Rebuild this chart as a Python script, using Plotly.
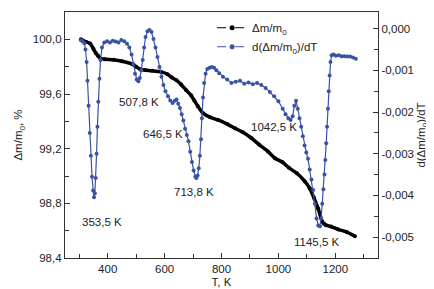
import plotly.graph_objects as go

# Δm/m0 (%) - left axis
T_mass = [306, 315, 325, 338, 350, 358, 366, 375, 390, 420, 450, 485, 500, 515, 531, 556, 590, 610,
          626, 642, 658, 675, 693, 705, 717, 735, 760, 788, 820, 847, 875, 904, 932, 963, 988,
          1015, 1037, 1065, 1093, 1110, 1125, 1140, 1153, 1160, 1167, 1185, 1209, 1240, 1269]
mass = [100.0, 99.99, 99.98, 99.97, 99.93, 99.90, 99.88, 99.86, 99.855, 99.85, 99.84, 99.82, 99.80,
        99.78, 99.775, 99.77, 99.76, 99.745, 99.72, 99.70, 99.67, 99.63, 99.59, 99.55, 99.51, 99.46,
        99.43, 99.41, 99.38, 99.35, 99.32, 99.28, 99.23, 99.18, 99.13, 99.10, 99.06, 99.02, 98.96,
        98.91, 98.84, 98.76, 98.67, 98.65, 98.64, 98.63, 98.61, 98.59, 98.56]

# d(Δm/m0)/dT (units of 1e-3) - right axis
T_der = [306, 312, 318, 322, 326, 329, 333, 337, 341, 345, 349, 352, 355, 358, 361, 364, 367, 371,
         375, 380, 388, 398, 408, 418, 428, 438, 448, 458, 468, 476, 484, 490, 496, 502, 508, 513,
         518, 523, 528, 533, 540, 547, 554, 561, 568, 575, 582, 589, 596, 603, 612, 620, 628, 636,
         642, 648, 654, 660, 666, 672, 678, 684, 690, 696, 702, 708, 712, 716, 720, 724, 728, 731,
         735, 739, 744, 750, 758, 766, 774, 782, 792, 805, 820, 835, 850, 865, 880, 895, 910, 925,
         940, 955, 970, 985, 1000, 1015, 1025, 1035, 1043, 1050, 1056, 1062, 1068, 1074, 1080,
         1086, 1092, 1098, 1104, 1110, 1116, 1122, 1128, 1134, 1140, 1146, 1150, 1154, 1158, 1162,
         1165, 1168, 1171, 1174, 1177, 1180, 1183, 1187, 1194, 1202, 1212, 1222, 1232, 1242, 1252,
         1262, 1272]
der = [-0.28, -0.30, -0.35, -0.50, -0.80, -1.25, -1.85, -2.50, -3.05, -3.55, -3.88, -4.04, -3.95,
       -3.58, -3.00, -2.35, -1.75, -1.20, -0.75, -0.45, -0.33, -0.30, -0.33, -0.29, -0.31, -0.33,
       -0.27, -0.30, -0.36, -0.45, -0.62, -0.85, -1.08, -1.22, -1.26, -1.18, -1.00, -0.75, -0.45,
       -0.20, -0.06, -0.03, -0.08, -0.25, -0.45, -0.68, -0.92, -1.15, -1.35, -1.50, -1.62, -1.72,
       -1.78, -1.73, -1.70, -1.80, -1.90, -2.05, -2.20, -2.40, -2.55, -2.70, -2.95, -3.20, -3.40,
       -3.55, -3.58, -3.52, -3.35, -3.05, -2.65, -2.15, -1.65, -1.30, -1.08, -0.97, -0.94, -0.92,
       -0.94, -1.00, -1.07, -1.15, -1.22, -1.30, -1.27, -1.25, -1.32, -1.29, -1.33, -1.30, -1.35,
       -1.42, -1.52, -1.62, -1.74, -1.92, -2.05, -2.15, -2.19, -2.10, -1.85, -1.73, -1.92, -2.15,
       -2.35, -2.58, -2.80, -2.97, -3.12, -3.38, -3.62, -3.87, -4.20, -4.55, -4.72, -4.74, -4.55,
       -4.20, -3.85, -3.50, -3.15, -2.75, -2.35, -1.92, -1.50, -1.12, -0.80, -0.64, -0.62, -0.65,
       -0.64, -0.66, -0.66, -0.67, -0.67, -0.69, -0.72]
der = [d * 1e-3 for d in der]

x_ticks = [400, 600, 800, 1000, 1200]
y1_ticks = [98.4, 98.8, 99.2, 99.6, 100.0]
y1_text = ["98,4", "98,8", "99,2", "99,6", "100,0"]
y2_ticks = [0.0, -0.001, -0.002, -0.003, -0.004, -0.005]
y2_text = ["0,000", "-0,001", "-0,002", "-0,003", "-0,004", "-0,005"]

labels = ["353,5 K", "507,8 K", "646,5 K", "713,8 K", "1042,5 K", "1145,5 K"]
label_T = [380, 510, 594, 703, 984, 1136]
label_y = [98.66, 99.54, 99.31, 98.88, 99.36, 98.52]

BLUE = "#3953a4"
FONT = "Liberation Sans, Arial, sans-serif"
FS = 11.5

fig = go.Figure()
fig.add_trace(go.Scatter(x=T_mass, y=mass, mode="lines+markers",
                         line=dict(color="black", width=3.5, shape="spline", smoothing=0.6),
                         marker=dict(color="black", size=4),
                         showlegend=False, yaxis="y"))
fig.add_trace(go.Scatter(x=[None], y=[None], mode="lines+markers",
                         line=dict(color="black", width=1, dash="dash"),
                         marker=dict(color="black", size=5),
                         name="Δm/m<sub>0</sub>", yaxis="y"))
fig.add_trace(go.Scatter(x=T_der, y=der, mode="lines+markers",
                         line=dict(color=BLUE, width=1.2),
                         marker=dict(color=BLUE, size=4),
                         showlegend=False, yaxis="y2"))
fig.add_trace(go.Scatter(x=[None], y=[None], mode="lines+markers",
                         line=dict(color=BLUE, width=1, dash="dash"),
                         marker=dict(color=BLUE, size=5),
                         name="d(Δm/m<sub>0</sub>)/dT", yaxis="y2"))

for t, xx, yy in zip(labels, label_T, label_y):
    fig.add_annotation(x=xx, y=yy, xref="x", yref="y", text=t, showarrow=False,
                       font=dict(family=FONT, size=FS, color="#222"))

axis_common = dict(showgrid=False, zeroline=False, showline=True, linecolor="#333",
                   linewidth=1.2, ticks="inside", ticklen=5, tickcolor="#333",
                   tickfont=dict(family=FONT, size=FS, color="#222"))

fig.update_layout(
    width=434, height=289,
    margin=dict(l=57, r=64, t=4, b=39),
    paper_bgcolor="white", plot_bgcolor="white",
    font=dict(family=FONT, size=FS, color="#222"),
    xaxis=dict(range=[250, 1350], tickvals=x_ticks, ticktext=[str(v) for v in x_ticks],
               minor=dict(tickvals=[300, 500, 700, 900, 1100, 1300], ticks="inside",
                          ticklen=4, tickcolor="#333"),
               mirror=True,
               title=dict(text="T, K", font=dict(family=FONT, size=FS), standoff=4),
               **axis_common),
    yaxis=dict(range=[98.4, 100.2], tickvals=y1_ticks, ticktext=y1_text,
               minor=dict(tickvals=[98.6, 99.0, 99.4, 99.8], ticks="inside",
                          ticklen=4, tickcolor="#333"),
               title=dict(text="Δm/m<sub>0</sub>, %", font=dict(family=FONT, size=FS), standoff=7),
               **axis_common),
    yaxis2=dict(range=[-0.0055, 0.0004], overlaying="y", side="right",
                tickvals=y2_ticks, ticktext=y2_text,
                minor=dict(tickvals=[-0.0005, -0.0015, -0.0025, -0.0035, -0.0045], ticks="inside",
                           ticklen=4, tickcolor="#333"),
                title=dict(text="d(Δm/m<sub>0</sub>)/dT", font=dict(family=FONT, size=FS), standoff=3),
                **axis_common),
    legend=dict(x=0.47, y=0.995, xanchor="left", yanchor="top", bgcolor="rgba(0,0,0,0)",
                font=dict(family=FONT, size=FS), tracegroupgap=0, itemwidth=30),
)

fig.write_html("out.html")
